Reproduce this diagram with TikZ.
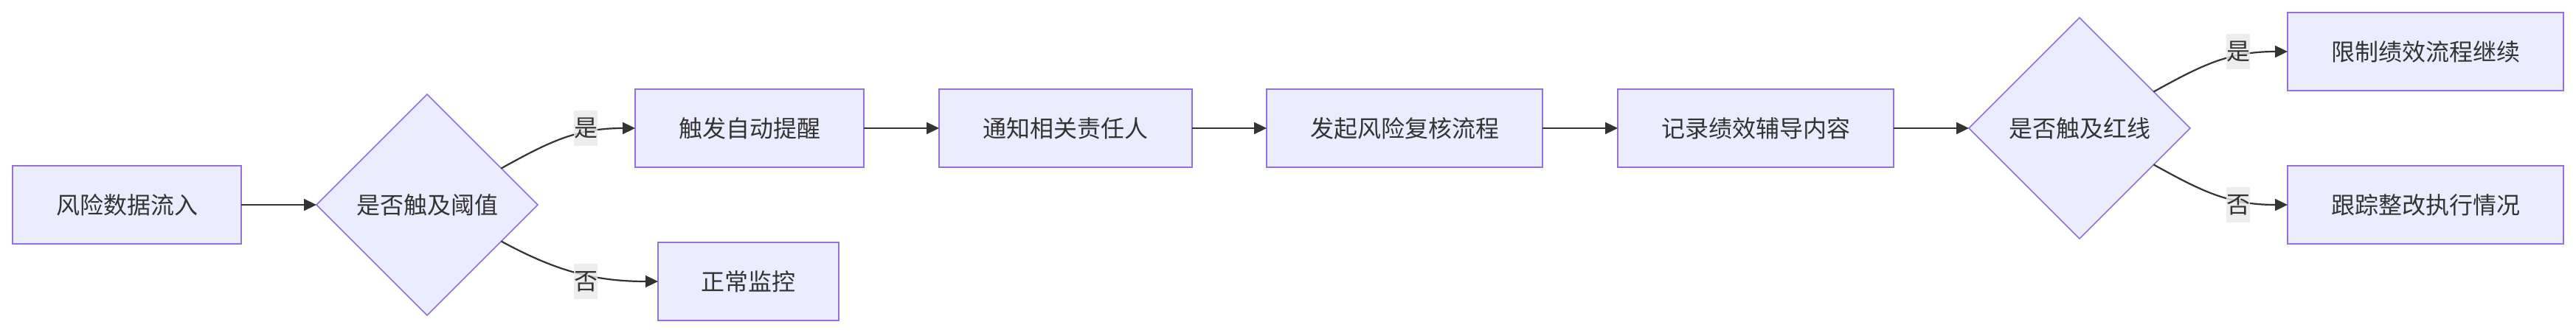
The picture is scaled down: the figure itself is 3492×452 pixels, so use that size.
\documentclass[tikz,border=0pt]{standalone}
\usepackage{fontspec}
\setmainfont{Noto Sans CJK SC}
\usetikzlibrary{shapes.geometric,arrows.meta,calc}

\definecolor{nodefill}{HTML}{ECECFF}
\definecolor{nodeborder}{HTML}{9370DB}
\definecolor{edgecol}{HTML}{333333}
\definecolor{labelbg}{HTML}{E8E8E8}

\begin{document}
\begin{tikzpicture}[x=1pt,y=-1pt,
  box/.style={rectangle, draw=nodeborder, fill=nodefill, line width=2pt, minimum height=106pt, inner sep=0pt, outer sep=0pt, text=edgecol, font=\fontsize{32}{38}\selectfont},
  dec/.style={diamond, draw=nodeborder, fill=nodefill, line width=1.6pt, minimum width=300pt, minimum height=300pt, inner sep=0pt, outer sep=0pt, text=edgecol, font=\fontsize{32}{38}\selectfont},
  edge/.style={draw=edgecol, line width=2.2pt, -{Triangle[length=17pt,width=16pt]}},
  elabel/.style={rectangle, fill=labelbg, fill opacity=0.8, text opacity=1, text=edgecol, inner sep=0pt, minimum width=32pt, minimum height=48pt, font=\fontsize{32}{38}\selectfont}
]
\useasboundingbox (0,0) rectangle (3492,452);

\node[box, minimum width=310pt] (A) at (172,278) {风险数据流入};
\node[dec] (B) at (579,278) {是否触及阈值};
\node[box, minimum width=310pt] (C) at (1016,174) {触发自动提醒};
\node[box, minimum width=245pt] (D) at (1014.5,382) {正常监控};
\node[box, minimum width=343pt] (E) at (1444.5,174) {通知相关责任人};
\node[box, minimum width=374pt] (F) at (1904,174) {发起风险复核流程};
\node[box, minimum width=374pt] (G) at (2380,174) {记录绩效辅导内容};
\node[dec] (H) at (2819,174) {是否触及红线};
\node[box, minimum width=374pt] (I) at (3288,70) {限制绩效流程继续};
\node[box, minimum width=374pt] (J) at (3288,278) {跟踪整改执行情况};

\coordinate (b1) at ($(B.east)!0.33!(B.north)$);
\coordinate (b2) at ($(B.east)!0.33!(B.south)$);
\coordinate (h1) at ($(H.east)!0.33!(H.north)$);
\coordinate (h2) at ($(H.east)!0.33!(H.south)$);

\draw[edge] (A.east) -- (B.west);
\draw[edge] (C.east) -- (E.west);
\draw[edge] (E.east) -- (F.west);
\draw[edge] (F.east) -- (G.west);
\draw[edge] (G.east) -- (H.west);

\draw[edge] (b1) .. controls +(65,-36) and +(-80,0) .. (C.west);
\draw[edge] (b2) .. controls +(70,38) and +(-90,0) .. (D.west);
\draw[edge] (h1) .. controls +(65,-36) and +(-80,0) .. (I.west);
\draw[edge] (h2) .. controls +(65,36) and +(-80,0) .. (J.west);

\node[elabel] (l1) at (794,174) {是};
\node[elabel] (l2) at (794,382) {否};
\node[elabel] (l3) at (3034,70) {是};
\node[elabel] (l4) at (3034,278) {否};
\end{tikzpicture}
\end{document}
